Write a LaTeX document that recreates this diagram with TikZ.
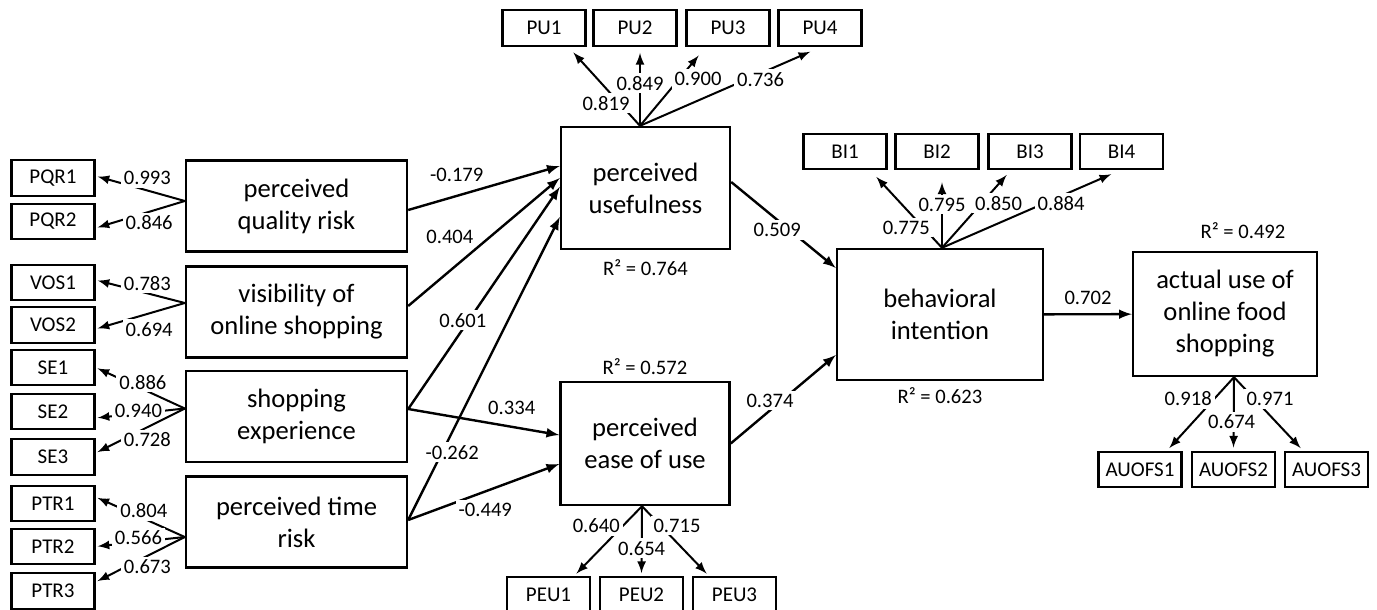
\documentclass[tikz,border=0pt]{standalone}
\usepackage{fontspec}
\setmainfont{Carlito}
\usetikzlibrary{arrows,positioning}
\tikzset{
  basic/.style     = {draw, line width=1.2pt, rectangle, align=center},
  construct/.style = {basic, inner sep=2pt, font=\fontsize{13.3}{16}\selectfont},
  exo/.style       = {construct, minimum width=110.5pt, minimum height=45.5pt},
  indicator/.style = {basic, inner sep=1pt, minimum width=41.5pt, minimum height=17.75pt,
                      font=\fontsize{10.5}{12}\selectfont},
  coef/.style      = {fill=white, inner sep=1.5pt, font=\fontsize{10.3}{12}\selectfont},
  rsq/.style       = {inner sep=0pt, font=\fontsize{10.3}{12}\selectfont},
  struct/.style    = {->, line width=1.2pt},
  loading/.style   = {->, line width=1pt, shorten >=1pt}
}

\begin{document}
\begin{tikzpicture}[x=0.5pt, y=-0.5pt, >=latex]
	\useasboundingbox (0,0) rectangle (1377,610);

	% latent constructs
	\node[exo] (pqr) at (296.5,206)   {perceived\\quality risk};
	\node[exo] (vos) at (296.5,312)   {visibility of\\online shopping};
	\node[exo] (se)  at (296.5,416.5) {shopping\\experience};
	\node[exo] (ptr) at (296.5,522)   {perceived time\\risk};
	\node[construct, minimum width=84.5pt, minimum height=61pt]   (pu)  at (645.5,188)   {perceived\\usefulness};
	\node[construct, minimum width=84.5pt, minimum height=61.5pt] (peu) at (645,443.5)   {perceived\\ease of use};
	\node[construct, minimum width=103pt, minimum height=65.5pt]  (bi)  at (940,314.5)   {behavioral\\intention};
	\node[construct, minimum width=92pt, minimum height=62pt]     (au)  at (1225,314)    {actual use of\\online food\\shopping};

	% explained variance
	\node[rsq, below=4.5pt of pu]            (pu-r)  {R² = 0.764};
	\node[rsq, above=3pt of peu]             (peu-r) {R² = 0.572};
	\node[rsq, below=3pt of bi]              (bi-r)  {R² = 0.623};
	\node[rsq, above=6pt of au, xshift=9pt]  (au-r)  {R² = 0.492};

	% indicators
	\foreach \n/\y in {PQR1/178, PQR2/221.5, VOS1/282.5, VOS2/325, SE1/367.5,
	                   SE2/411.5, SE3/457, PTR1/503.5, PTR2/546.5, PTR3/591}
		\node[indicator] (\n) at (53,\y) {\n};
	\foreach \n/\x in {PU1/544, PU2/635, PU3/728, PU4/820}
		\node[indicator] (\n) at (\x,28) {\n};
	\foreach \n/\x in {BI1/845, BI2/937, BI3/1030, BI4/1121.5}
		\node[indicator] (\n) at (\x,151.5) {\n};
	\foreach \n/\x in {PEU1/548.5, PEU2/641.5, PEU3/734.5}
		\node[indicator] (\n) at (\x,595) {\n};
	\foreach \n/\x in {AUOFS1/1140, AUOFS2/1233.5, AUOFS3/1326.5}
		\node[indicator] (\n) at (\x,469.5) {\n};

	% points where the loadings leave each construct
	\coordinate (pqr-h) at ([yshift=2.5pt]pqr.west);
	\coordinate (vos-h) at ([yshift=4.5pt]vos.west);
	\coordinate (se-h)  at ([yshift=4pt]se.west);
	\coordinate (ptr-h) at ([yshift=-7.5pt]ptr.west);
	\coordinate (pu-h)  at ([xshift=-2.75pt]pu.north);
	\coordinate (peu-h) at ([xshift=-1.5pt]peu.south);
	\coordinate (bi-h)  at ([xshift=1pt]bi.north);
	\coordinate (au-h)  at ([xshift=4.5pt]au.south);

	% outer loadings, left constructs
	\foreach \h/\n/\val/\pp/\ly/\ty in {
	    pqr/PQR1/0.993/0.42/6.25pt/1pt,   pqr/PQR2/0.846/0.40/-5.5pt/-3.25pt,
	    vos/VOS1/0.783/0.42/5pt/1.25pt,   vos/VOS2/0.694/0.40/-8pt/-2pt,
	    se/SE1/0.886/0.47/3.5pt/0pt,      se/SE2/0.940/0.52/1.5pt/-3.25pt,
	    se/SE3/0.728/0.42/-6.25pt/2pt,    ptr/PTR1/0.804/0.46/4pt/3.25pt,
	    ptr/PTR2/0.566/0.52/2pt/0pt,      ptr/PTR3/0.673/0.42/-5.5pt/4.5pt}
		\draw[loading] (\h-h) -- node[coef, pos=\pp, yshift=\ly] {\val} ([yshift=\ty]\n.east);

	% outer loadings, upper indicators
	\foreach \h/\n/\tx/\ty/\pp/\lx/\val in {
	    pu/PU1/14pt/-2pt/0.30/-6.8pt/0.819,   pu/PU2/2.5pt/-2pt/0.57/0pt/0.849,
	    pu/PU3/-14pt/-3.5pt/0.65/9.5pt/0.900, pu/PU4/-4pt/-2pt/0.62/7pt/0.736,
	    bi/BI1/15pt/-2.5pt/0.28/-8.5pt/0.775, bi/BI2/2.5pt/-5pt/0.64/0pt/0.795,
	    bi/BI3/-11pt/-1.5pt/0.60/8.5pt/0.850, bi/BI4/-4.25pt/-1.5pt/0.60/8.25pt/0.884}
		\draw[loading] (\h-h) -- node[coef, pos=\pp, xshift=\lx] {\val} ([xshift=\tx, yshift=\ty]\n.south);

	% outer loadings, lower indicators
	\foreach \h/\n/\tx/\pp/\lx/\val in {
	    peu/PEU1/13.25pt/0.28/-13.5pt/0.640, peu/PEU2/0pt/0.61/0pt/0.654,
	    peu/PEU3/-13.25pt/0.28/8.25pt/0.715, au/AUOFS1/14pt/0.30/-13pt/0.918,
	    au/AUOFS2/0pt/0.62/-1pt/0.674,       au/AUOFS3/-12.25pt/0.30/7.8pt/0.971}
		\draw[loading] (\h-h) -- node[coef, pos=\pp, xshift=\lx] {\val} ([xshift=\tx, yshift=0.5pt]\n.north);

	% structural paths
	\draw[struct] ([yshift=-2pt]pqr.east) -- node[coef, pos=0.32, yshift=10.5pt] {-0.179} ([yshift=11pt]pu.west);
	\draw[struct] ([yshift=3pt]vos.east) -- node[coef, pos=0.275, yshift=17pt] {0.404} ([yshift=5pt]pu.west);
	\draw[struct] ([yshift=3.75pt]se.east) -- node[coef, pos=0.40, xshift=-3pt] {0.601} ([yshift=0.5pt]pu.west);
	\draw[struct] ([yshift=1pt]ptr.east) -- node[coef, pos=0.224, xshift=5pt] {-0.262} ([yshift=-14.5pt]pu.west);
	\draw[struct] ([yshift=3.75pt]se.east) -- node[coef, pos=0.685, yshift=9.5pt] {0.334} ([yshift=4.25pt]peu.west);
	\draw[struct] ([yshift=1pt]ptr.east) -- node[coef, pos=0.51, yshift=-9pt] {-0.449} ([yshift=-10.25pt]peu.west);
	\draw[struct] ([yshift=3pt]pu.east) -- node[coef, pos=0.44, yshift=-5pt] {0.509} ([yshift=23.25pt]bi.west);
	\draw[struct] (peu.east) -- node[coef, pos=0.374, yshift=5pt] {0.374} ([yshift=-20.25pt]bi.west);
	\draw[struct] (bi) -- node[coef, pos=0.5, yshift=8pt] {0.702} (au);

\end{tikzpicture}
\end{document}
